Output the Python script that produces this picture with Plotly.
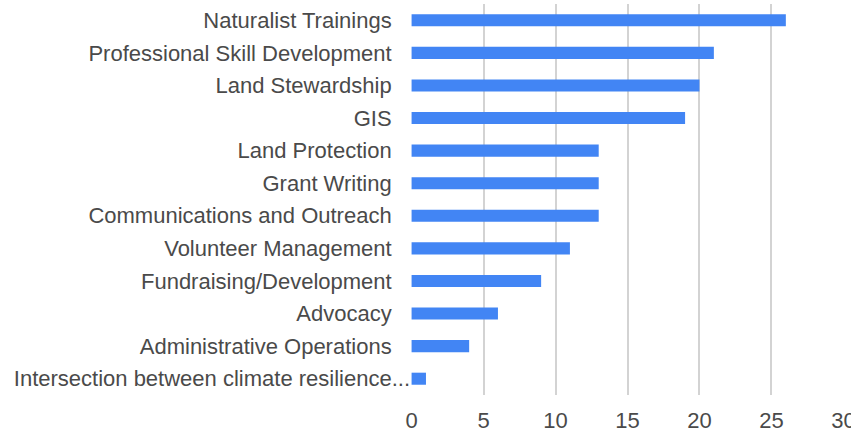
import plotly.graph_objects as go

categories = [
    "Naturalist Trainings",
    "Professional Skill Development",
    "Land Stewardship",
    "GIS",
    "Land Protection",
    "Grant Writing",
    "Communications and Outreach",
    "Volunteer Management",
    "Fundraising/Development",
    "Advocacy",
    "Administrative Operations",
    "Intersection between climate resilience...",
]
values = [26, 21, 20, 19, 13, 13, 13, 11, 9, 6, 4, 1]
x_ticks = [0, 5, 10, 15, 20, 25, 30]

# Labels cut with an ellipsis run up to the axis; the others sit a little further away.
tick_text = [c if c.endswith("...") else c + "\u00a0" * 3 for c in categories]

fig = go.Figure(
    go.Bar(
        x=values,
        y=categories,
        orientation="h",
        marker=dict(color="#4285f4", line=dict(width=0)),
        hoverinfo="x+y",
    )
)

fig.update_layout(
    width=851,
    height=434,
    margin=dict(l=411, r=7, t=4, b=39),
    paper_bgcolor="white",
    plot_bgcolor="white",
    bargap=0.63,
    showlegend=False,
    font=dict(family="Liberation Sans, Arial, sans-serif", size=22, color="#4a4a4a"),
)
fig.update_xaxes(
    range=[-0.04, 30.04],
    tickvals=x_ticks,
    ticktext=[str(v) for v in x_ticks],
    showgrid=True,
    gridcolor="#d3d3d3",
    gridwidth=1.5,
    zeroline=False,
    showline=False,
    ticks="",
    ticklabelstandoff=10,
    ticklabeloverflow="allow",
    automargin=False,
    tickfont=dict(size=22, color="#4a4a4a"),
)
fig.update_yaxes(
    categoryorder="array",
    categoryarray=categories,
    tickvals=categories,
    ticktext=tick_text,
    autorange="reversed",
    showgrid=False,
    zeroline=False,
    showline=False,
    ticks="",
    automargin=False,
    tickfont=dict(size=22, color="#4a4a4a"),
)

fig.write_html(
    "out.html",
    config={"responsive": False, "displayModeBar": False},
    post_script="document.body.style.margin='0';",
)
